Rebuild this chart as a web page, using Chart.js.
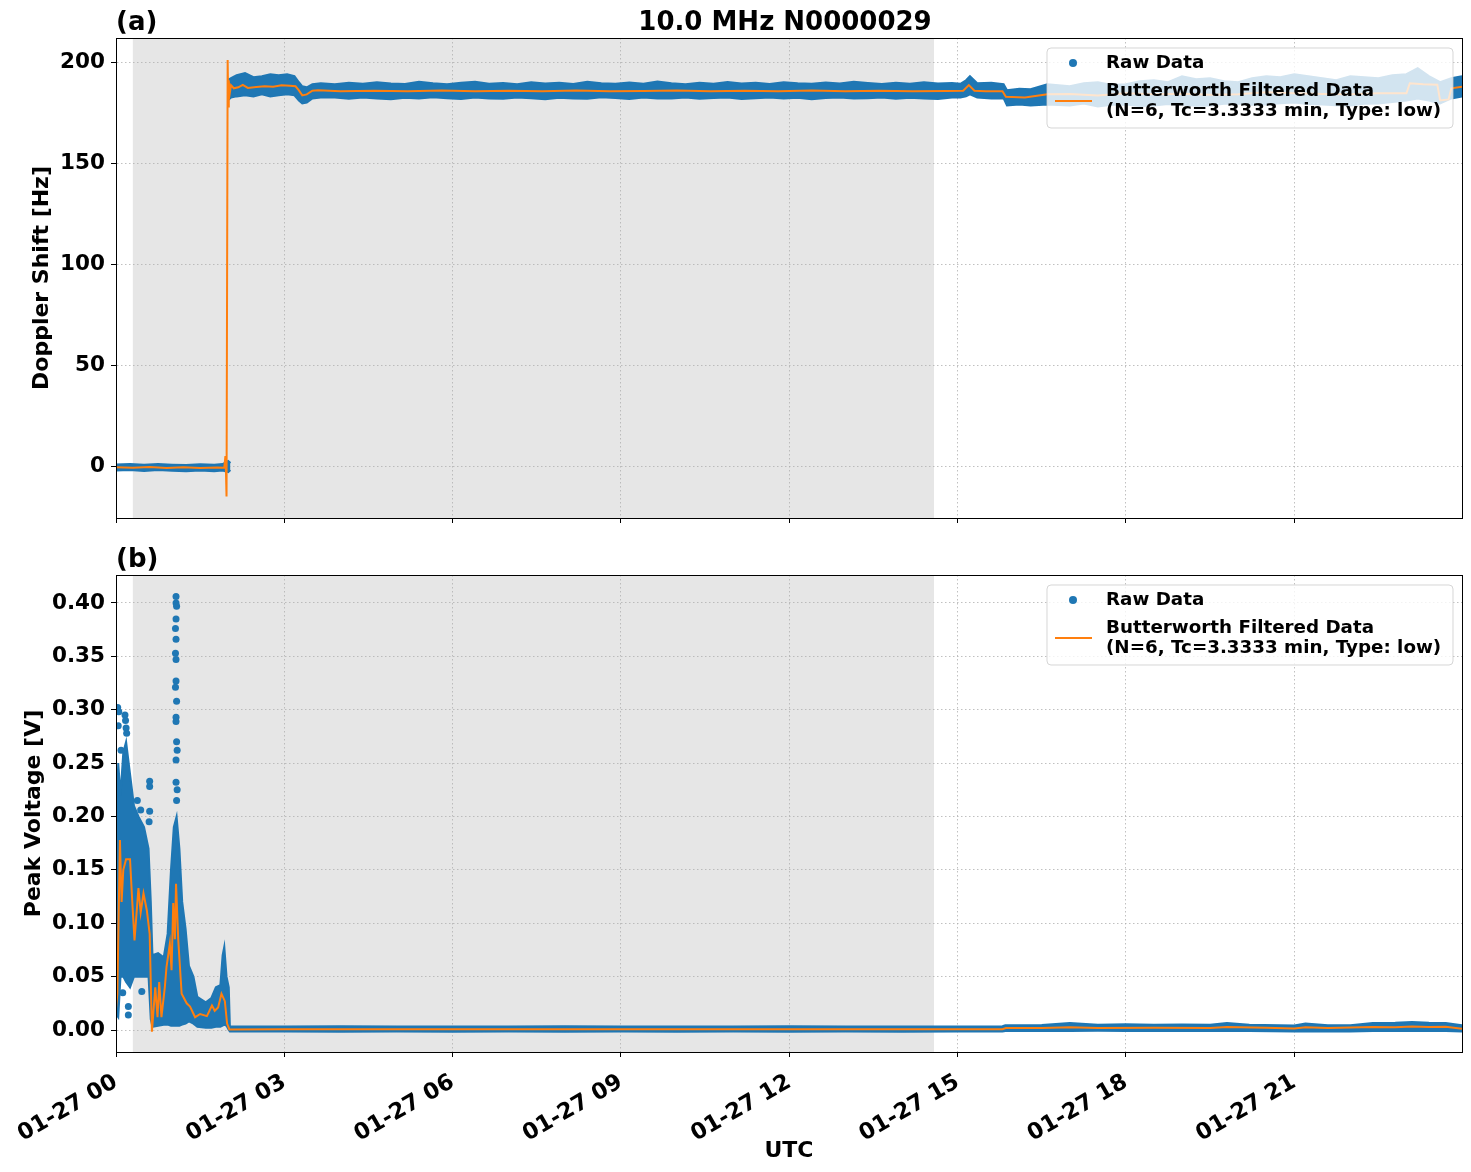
<!DOCTYPE html>
<html>
<head>
<meta charset="utf-8">
<script src="https://cdn.jsdelivr.net/npm/chart.js@4.4.0/dist/chart.umd.min.js"></script>
<style>
  body { margin: 0; background: #fff; }
  #wrap { position: relative; width: 1471px; height: 1172px; }
  canvas { position: absolute; left: 0; }
</style>
</head>
<body>
<div id="wrap">
  <canvas id="doppler" width="1471" height="540" style="top:0"></canvas>
  <canvas id="power" width="1471" height="632" style="top:540px"></canvas>
</div>
<script>
// ---- data (hours after 01-27 00 UTC) ----
const hourTicks = [0, 3, 6, 9, 12, 15, 18, 21];
const dopTicks = [0, 50, 100, 150, 200];
const pwrTicks = [0, 0.05, 0.10, 0.15, 0.20, 0.25, 0.30, 0.35, 0.40];
const nightSpan = [0.3, 14.58];   // grey shaded interval
const legendLabels = ['Raw Data', 'Butterworth Filtered Data', '(N=6, Tc=3.3333 min, Type: low)'];

// panel (a): raw doppler band, before the jump
const dopTimeA = [0, 0.25, 0.5, 0.75, 1.0, 1.25, 1.5, 1.75, 1.9, 2.0, 2.04];
const dopLoA   = [-2.2, -2.0, -2.4, -2.0, -2.3, -2.6, -2.2, -2.5, -2.2, -3.0, -2.0];
const dopHiA   = [0.8, 1.0, 0.6, 1.0, 0.7, 0.5, 0.9, 0.6, 1.0, 2.5, 1.5];

// panel (a): raw doppler band, after the jump
const dopTimeB = [1.99, 2.05, 2.15, 2.3, 2.45, 2.6, 2.75, 2.9, 3.05, 3.18,
  3.26, 3.32, 3.4, 3.5, 3.65,
  3.9, 4.15, 4.4, 4.65, 4.9, 5.15, 5.4, 5.65, 5.9, 6.15,
  6.4, 6.65, 6.9, 7.15, 7.4, 7.65, 7.9, 8.15, 8.4, 8.65,
  8.9, 9.15, 9.4, 9.65, 9.9, 10.15, 10.4, 10.65, 10.9, 11.15,
  11.4, 11.65, 11.9, 12.15, 12.4, 12.65, 12.9, 13.15, 13.4, 13.65,
  13.9, 14.15, 14.4, 14.65, 14.9,
  15.05, 15.15, 15.22, 15.35, 15.6, 15.82, 15.88, 16.1, 16.3, 16.6,
  17.0, 17.25, 17.5, 17.75, 18.0, 18.25, 18.5, 18.75, 19.0, 19.25,
  19.5, 19.75, 20.0, 20.25, 20.5, 20.75, 21.0, 21.25, 21.5, 21.75,
  22.0, 22.25, 22.5, 22.75, 23.0, 23.2, 23.4, 23.6, 23.8, 23.99];
const dopLoB = [181, 182.5, 183, 183.5, 183, 184, 183, 183.5, 184, 183.5,
  181, 179.5, 180, 182, 182.5,
  182.4, 181.8, 182.5, 182, 181.6, 182.3, 181.9, 182.6, 182.1, 181.7,
  182.4, 182, 181.8, 182.5, 182.1, 181.6, 182.3, 182, 181.8, 182.6,
  182.2, 181.7, 182.4, 182, 181.9, 182.5, 181.8, 182.2, 182.4, 181.7,
  182.1, 182.5, 181.9, 182.3, 181.6, 182.2, 182.5, 181.9, 182.1, 182.4,
  181.8, 182.3, 182, 181.7, 182.4,
  182.5, 183, 184, 182.5, 182, 182, 178.5, 179, 178.5, 179,
  178.5, 179.5, 178, 178.8, 179, 178.2, 178.5, 179.2, 179, 178.4,
  178.5, 179.3, 179.5, 178.8, 179, 179.6, 180, 179.2, 179, 178.6,
  178.5, 179.4, 179.5, 180.2, 181, 182, 181, 179.5, 182, 183];
const dopHiB = [191, 192, 193.5, 194.5, 192.5, 193, 194, 193.5, 194, 193,
  190, 188, 187.5, 189, 189.5,
  189, 189.8, 189.2, 190, 189.4, 189.1, 190.2, 189.5, 189, 189.7,
  190.3, 189.2, 189.6, 189, 190, 189.4, 189.8, 189.1, 190.2, 189.5,
  189.3, 189.9, 189.2, 190.4, 189.5, 189, 189.8, 189.3, 190.1, 189.4,
  189.7, 189.1, 190, 189.5, 189.2, 189.9, 189.4, 190.2, 189.6, 189.1,
  189.8, 189.3, 190, 189.4, 189.6,
  189.2, 191, 193, 189.5, 189.8, 189, 186, 186.8, 186.5, 189,
  188, 189.5, 190, 188.6, 189, 190.5, 191, 190, 193, 191.5,
  192, 190.5, 190, 192, 193, 192.5, 194, 193, 192, 191,
  193, 192.5, 192, 193.5, 194, 197, 193, 190, 192, 193];

// panel (a): filtered doppler
const dopFiltTime = [0, 0.3, 0.6, 0.9, 1.2, 1.5, 1.8, 1.93, 1.95, 1.96,
  1.97, 1.99, 2.0, 2.01, 2.025, 2.05, 2.1, 2.18, 2.26,
  2.35, 2.5, 2.65, 2.8, 2.95, 3.1, 3.2, 3.26, 3.32, 3.4,
  3.5, 3.6, 4.0, 4.6, 5.2, 5.8, 6.4, 7.0, 7.6, 8.2,
  8.8, 9.4, 10.0, 10.6, 11.2, 11.8, 12.4, 13.0, 13.6, 14.2,
  14.8, 15.1, 15.2, 15.3, 15.5, 15.8, 15.86, 16.2, 16.6, 17.0,
  17.5, 18.0, 18.5, 19.0, 19.5, 20.0, 20.5, 21.0, 21.5, 22.0,
  22.5, 23.0, 23.06, 23.3, 23.55, 23.6, 23.75, 23.8, 23.99];
const dopFilt = [-0.6, -0.8, -0.5, -0.9, -0.6, -1.0, -0.7, -0.8, 5.0, -3.0,
  -15.0, 201, 178, 191, 184, 188.5, 187, 187.5, 188.7,
  187.2, 187.6, 188, 187.8, 188.5, 188.3, 188, 186, 183.5, 184,
  185.8, 186, 185.5, 185.8, 185.6, 185.9, 185.5, 185.8, 185.6, 185.9,
  185.5, 185.7, 185.9, 185.5, 185.8, 185.6, 185.9, 185.5, 185.8, 185.6,
  185.7, 185.8, 188.6, 185.8, 185.6, 185.5, 182.8, 182.5, 184, 184.2,
  183.5, 184.5, 184, 184.3, 183.8, 184, 185, 184.5, 184.2, 184,
  184.5, 184.5, 189.5, 189, 188.8, 181, 181.5, 187, 187.8];

// panel (b): raw peak voltage band
const pwrTime = [0, 0.04, 0.08, 0.13, 0.18, 0.25, 0.32, 0.4, 0.5, 0.58,
  0.62, 0.65, 0.75, 0.85, 0.92, 0.98, 1.03, 1.08, 1.13, 1.18,
  1.24, 1.3, 1.38, 1.45, 1.6, 1.7, 1.78, 1.86, 1.9, 1.93,
  1.97, 2.01, 2.03, 3, 4, 5, 6, 7, 8, 9,
  10, 11, 12, 13, 14, 15, 15.8, 15.85, 16.5, 17,
  17.5, 18, 18.5, 19, 19.5, 19.8, 20.2, 21, 21.2, 21.6,
  22, 22.4, 22.8, 23.1, 23.4, 23.7, 23.99];
const pwrLo = [0.015, 0.012, 0.05, 0.05, 0.045, 0.04, 0.05, 0.05, 0.05, 0.05,
  0.01, 0.003, 0.004, 0.005, 0.005, 0.004, 0.004, 0.004, 0.004, 0.005,
  0.006, 0.008, 0.006, 0.003, 0.002, 0.002, 0.003, 0.003, 0.004, 0.005,
  0.004, 0.0, -0.0015, -0.0015, -0.0016, -0.0015, -0.0016, -0.0015, -0.0016, -0.0015,
  -0.0016, -0.0015, -0.0016, -0.0015, -0.0016, -0.0015, -0.0015, -0.001, -0.001, -0.001,
  -0.0008, -0.001, -0.001, -0.001, -0.001, -0.0008, -0.001, -0.0015, -0.0012, -0.0015,
  -0.0015, -0.001, -0.001, -0.001, -0.001, -0.001, -0.0015];
const pwrHi = [0.19, 0.25, 0.22, 0.26, 0.27, 0.24, 0.21, 0.2, 0.19, 0.17,
  0.12, 0.07, 0.072, 0.068, 0.09, 0.15, 0.19, 0.2, 0.17, 0.12,
  0.095, 0.06, 0.05, 0.031, 0.026, 0.03, 0.04, 0.042, 0.07, 0.078,
  0.05, 0.04, 0.0032, 0.0032, 0.0035, 0.0033, 0.0034, 0.0032, 0.0035, 0.0033,
  0.0034, 0.0032, 0.0035, 0.0033, 0.0034, 0.0033, 0.0035, 0.0045, 0.0048, 0.0065,
  0.005, 0.0055, 0.005, 0.0052, 0.005, 0.0065, 0.005, 0.0042, 0.006, 0.0045,
  0.0045, 0.0065, 0.0068, 0.0075, 0.0068, 0.0065, 0.0045];

// panel (b): isolated raw points outside the band
const pwrDotTime = [0.03, 0.05, 0.04, 0.09, 0.16, 0.17, 0.18, 0.19, 0.22, 0.22, 0.12, 0.46,
  0.38, 0.44, 0.6, 0.6, 0.6, 0.59,
  1.07, 1.07, 1.08, 1.07, 1.06, 1.07, 1.06, 1.07, 1.07, 1.06, 1.08, 1.07, 1.07, 1.08, 1.09, 1.07, 1.07, 1.09, 1.08];
const pwrDotVal = [0.302, 0.298, 0.285, 0.262, 0.295, 0.29, 0.283, 0.278, 0.022, 0.014, 0.035, 0.036,
  0.215, 0.206, 0.233, 0.228, 0.205, 0.195,
  0.406, 0.400, 0.397, 0.385, 0.376, 0.366, 0.353, 0.347, 0.327, 0.321, 0.308, 0.293, 0.289, 0.270, 0.262, 0.253, 0.232, 0.225, 0.215];

// panel (b): filtered peak voltage
const pwrFiltTime = [0, 0.024, 0.07, 0.1, 0.13, 0.18, 0.25, 0.29, 0.33, 0.4,
  0.44, 0.49, 0.55, 0.6, 0.64, 0.7, 0.74, 0.77, 0.81, 0.87,
  0.9, 0.96, 0.99, 1.02, 1.05, 1.07, 1.11, 1.17, 1.26, 1.32,
  1.41, 1.5, 1.62, 1.71, 1.76, 1.82, 1.88, 1.94, 1.98, 2.02,
  3, 5, 7, 9, 11, 13, 15, 15.8, 15.86, 16.5,
  17, 17.5, 18.5, 19.5, 19.8, 20.5, 21, 21.2, 21.6, 22.4,
  22.8, 23.1, 23.4, 23.7, 23.99];
const pwrFilt = [0.02, 0.034, 0.178, 0.12, 0.15, 0.16, 0.16, 0.12, 0.084, 0.133,
  0.11, 0.128, 0.112, 0.09, -0.0015, 0.04, 0.012, 0.045, 0.012, 0.04,
  0.059, 0.081, 0.056, 0.119, 0.085, 0.137, 0.084, 0.034, 0.025, 0.022,
  0.012, 0.015, 0.013, 0.023, 0.018, 0.021, 0.034, 0.027, 0.006, 0.0005,
  0.0008, 0.0006, 0.0008, 0.0007, 0.0008, 0.0006, 0.0007, 0.0008, 0.0018, 0.0018,
  0.0025, 0.0018, 0.002, 0.0019, 0.0028, 0.002, 0.0015, 0.0026, 0.0018, 0.0028,
  0.0025, 0.0032, 0.0028, 0.003, 0.0012];

// ---- styling ----
const blue = '#1f77b4';
const orange = '#ff7f0e';
Chart.defaults.font.family = '"DejaVu Sans", sans-serif';
const tickFont = { size: 21.5, weight: 'bold' };
const xTickFont = { size: 22.5, weight: 'bold' };
const axisFont = { size: 22, weight: 'bold' };

const pts = (xs, ys) => xs.map((x, i) => ({ x: x, y: ys[i] }));

const band = (xs, lo, hi) => [
  { data: pts(xs, hi), borderColor: blue, backgroundColor: blue, borderWidth: 2, fill: '+1', pointRadius: 0, tension: 0, order: 1 },
  { data: pts(xs, lo), borderColor: blue, borderWidth: 2, fill: false, pointRadius: 0, tension: 0, order: 1 }
];
const filtLine = (xs, ys) => ({
  data: pts(xs, ys), borderColor: orange, borderWidth: 2, fill: false, pointRadius: 0, tension: 0, order: 0
});

// shaded interval, top/right spines, panel letter, title, legend box
const decor = {
  id: 'decor',
  beforeDraw(chart) {
    const { ctx, chartArea: a, scales: { x } } = chart;
    const x0 = x.getPixelForValue(nightSpan[0]);
    const x1 = x.getPixelForValue(nightSpan[1]);
    ctx.save();
    ctx.fillStyle = 'rgba(128,128,128,0.2)';
    ctx.fillRect(x0, a.top, x1 - x0, a.bottom - a.top);
    ctx.restore();
  },
  afterDraw(chart, args, opts) {
    const { ctx, chartArea: a } = chart;
    ctx.save();
    // legend
    const w = 406, h = 80;
    const bx = a.right - 9 - w, by = a.top + 10;
    ctx.beginPath();
    ctx.roundRect(bx, by, w, h, 4);
    ctx.fillStyle = 'rgba(255,255,255,0.8)';
    ctx.fill();
    ctx.strokeStyle = 'rgba(204,204,204,0.8)';
    ctx.lineWidth = 1;
    ctx.stroke();
    ctx.fillStyle = blue;
    ctx.beginPath();
    ctx.arc(bx + 26, by + 15, 4, 0, 2 * Math.PI);
    ctx.fill();
    ctx.strokeStyle = orange;
    ctx.lineWidth = 2;
    ctx.beginPath();
    ctx.moveTo(bx + 8, by + 53);
    ctx.lineTo(bx + 45, by + 53);
    ctx.stroke();
    ctx.fillStyle = '#000';
    ctx.font = 'bold 18.3px "DejaVu Sans"';
    ctx.textBaseline = 'middle';
    ctx.textAlign = 'left';
    ctx.fillText(legendLabels[0], bx + 59, by + 15);
    ctx.fillText(legendLabels[1], bx + 59, by + 43);
    ctx.fillText(legendLabels[2], bx + 59, by + 63);
    // spines
    ctx.strokeStyle = '#000';
    ctx.lineWidth = 1;
    ctx.strokeRect(a.left + 0.5, a.top + 0.5, a.right - a.left, a.bottom - a.top);
    // panel letter and title
    ctx.font = 'bold 26px "DejaVu Sans"';
    ctx.textBaseline = 'alphabetic';
    ctx.fillText(opts.label, a.left, a.top - 8);
    if (opts.title) {
      ctx.textAlign = 'center';
      ctx.fillText(opts.title, (a.left + a.right) / 2 - 4, a.top - 8);
    }
    ctx.restore();
  }
};

const gridOpts = { color: '#b0b0b0', lineWidth: 0.8, tickColor: '#000', tickLength: 5, tickWidth: 1 };
const borderOpts = { color: '#000', width: 1, dash: [1.5, 2.5] };

function xAxis(height, showLabels) {
  return {
    type: 'linear', min: 0, max: 23.99,
    afterBuildTicks: s => { s.ticks = hourTicks.map(v => ({ value: v })); },
    afterFit: s => { s.height = height; },
    ticks: {
      display: showLabels, color: '#000', font: xTickFont, padding: 12,
      minRotation: 30, maxRotation: 30, autoSkip: false,
      callback: v => '01-27 ' + String(v).padStart(2, '0')
    },
    grid: gridOpts,
    border: borderOpts,
    title: { display: showLabels, text: 'UTC', color: '#000', font: axisFont, padding: { top: 4, bottom: 8 } }
  };
}

function yAxis(min, max, ticks, fmt, title, titlePad) {
  return {
    min: min, max: max,
    afterBuildTicks: s => { s.ticks = ticks.map(v => ({ value: v })); },
    afterFit: s => { s.width = 116; },
    ticks: { color: '#000', font: tickFont, padding: 6, callback: fmt },
    grid: gridOpts,
    border: borderOpts,
    title: { display: true, text: title, color: '#000', font: axisFont, padding: { top: titlePad } }
  };
}

new Chart(document.getElementById('doppler'), {
  type: 'line',
  data: {
    datasets: [
      ...band(dopTimeA, dopLoA, dopHiA),
      ...band(dopTimeB, dopLoB, dopHiB),
      filtLine(dopFiltTime, dopFilt)
    ]
  },
  options: {
    responsive: false,
    animation: false,
    layout: { padding: { top: 38, right: 9, left: 0, bottom: 0 } },
    plugins: {
      legend: { display: false },
      tooltip: { enabled: false },
      decor: { label: '(a)', title: '10.0 MHz N0000029' }
    },
    scales: {
      x: xAxis(22, false),
      y: yAxis(-25.7, 211.9, dopTicks, v => String(v), 'Doppler Shift [Hz]', 29)
    }
  },
  plugins: [decor]
});

new Chart(document.getElementById('power'), {
  type: 'line',
  data: {
    datasets: [
      ...band(pwrTime, pwrLo, pwrHi),
      { data: pts(pwrDotTime, pwrDotVal), showLine: false, pointRadius: 3.5, pointBackgroundColor: blue,
        pointBorderWidth: 0, borderColor: blue, order: 1 },
      filtLine(pwrFiltTime, pwrFilt)
    ]
  },
  options: {
    responsive: false,
    animation: false,
    layout: { padding: { top: 35, right: 9, left: 0, bottom: 0 } },
    plugins: {
      legend: { display: false },
      tooltip: { enabled: false },
      decor: { label: '(b)' }
    },
    scales: {
      x: xAxis(120, true),
      y: yAxis(-0.0206, 0.4262, pwrTicks, v => v.toFixed(2), 'Peak Voltage [V]', 21)
    }
  },
  plugins: [decor]
});
</script>
</body>
</html>
